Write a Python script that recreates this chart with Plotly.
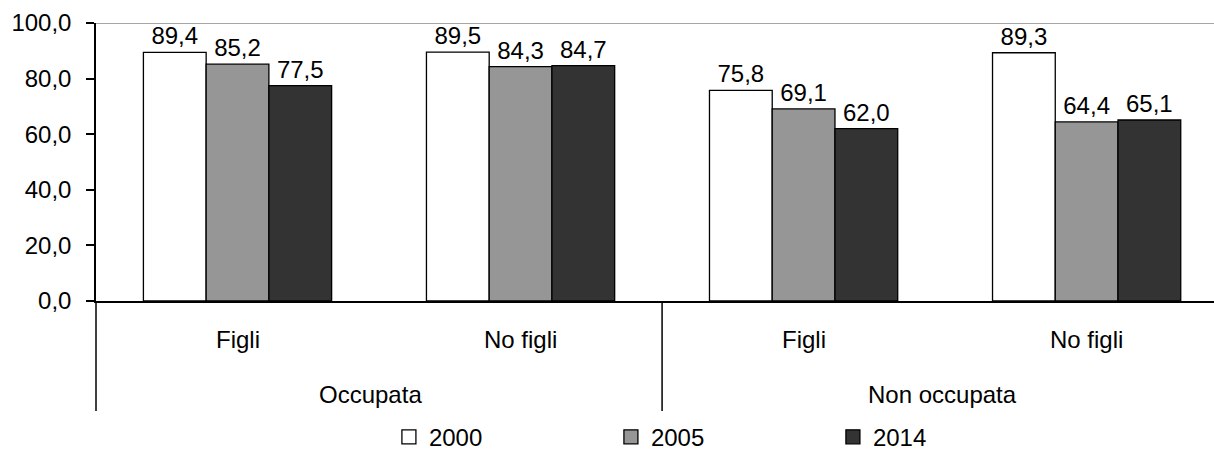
import plotly.graph_objects as go

# Two-level categories: employment status, then children
groups = ["Occupata", "Non occupata"]
subgroups = ["Figli", "No figli", "Figli", "No figli"]

years = ["2000", "2005", "2014"]
v2000 = [89.4, 89.5, 75.8, 89.3]
v2005 = [85.2, 84.3, 69.1, 64.4]
v2014 = [77.5, 84.7, 62.0, 65.1]

colors = ["#ffffff", "#969696", "#333333"]
FONT = "Liberation Sans, Arial, sans-serif"
FS = 24

x = list(range(len(subgroups)))

fig = go.Figure()
for name, vals, col in zip(years, [v2000, v2005, v2014], colors):
    fig.add_trace(go.Bar(
        x=x, y=vals, name=name, showlegend=False,
        marker=dict(color=col, line=dict(color="#000000", width=1.3)),
        text=[f"{v:.1f}".replace(".", ",") for v in vals],
        textposition="outside", constraintext="none",
        textfont=dict(family=FONT, size=FS, color="#000000"),
        cliponaxis=False,
    ))

# legend entries drawn as outlined squares
for name, col in zip(years, colors):
    fig.add_trace(go.Scatter(
        x=[None], y=[None], mode="markers", name=name,
        marker=dict(symbol="square", size=14, color=col,
                    line=dict(color="#000000", width=1.3)),
    ))

# lower-level category labels under each group
annotations = []
for i, s in enumerate(subgroups):
    annotations.append(dict(x=i, y=-0.14, xref="x", yref="paper", text=s,
                            showarrow=False, font=dict(family=FONT, size=FS, color="#000000"),
                            xanchor="center", yanchor="middle"))
# upper-level labels
for xc, g in zip([0.47, 2.49], groups):
    annotations.append(dict(x=xc, y=-0.335, xref="x", yref="paper", text=g,
                            showarrow=False, font=dict(family=FONT, size=FS, color="#000000"),
                            xanchor="center", yanchor="middle"))

shapes = [
    # top reference line at 100
    dict(type="line", xref="paper", yref="y", x0=0, x1=1, y0=100, y1=100,
         line=dict(color="#8a8a8a", width=1.5)),
    # dividers between the outer categories
    dict(type="line", xref="paper", yref="paper", x0=0, x1=0, y0=0, y1=-0.396,
         line=dict(color="#000000", width=1.5)),
    dict(type="line", xref="x", yref="paper", x0=1.5, x1=1.5, y0=0, y1=-0.396,
         line=dict(color="#000000", width=1.5)),
]

fig.update_layout(
    width=1214, height=452,
    margin=dict(l=96, r=0, t=23, b=151, autoexpand=False),
    paper_bgcolor="#ffffff", plot_bgcolor="#ffffff",
    barmode="group", bargap=0.335, bargroupgap=0,
    separators=", ",
    font=dict(family=FONT, size=FS, color="#000000"),
    showlegend=True,
    legend=dict(orientation="h", x=0.262, y=-0.49, xanchor="left", yanchor="middle",
                entrywidth=177, entrywidthmode="pixels",
                font=dict(family=FONT, size=FS, color="#000000"),
                itemclick=False, traceorder="normal"),
    annotations=annotations,
    shapes=shapes,
)
fig.update_xaxes(range=[-0.5, 3.45], showticklabels=False, ticks="",
                 showgrid=False, zeroline=False, showline=True,
                 linecolor="#000000", linewidth=2)
fig.update_yaxes(range=[0, 100], dtick=20, tickformat=".1f", showgrid=False,
                 zeroline=False, showline=True, linecolor="#000000", linewidth=1.5,
                 ticks="outside", ticklen=8, tickwidth=1.5, tickcolor="#000000",
                 ticklabelstandoff=10,
                 tickfont=dict(family=FONT, size=FS, color="#000000"))

fig.write_html("out.html")
